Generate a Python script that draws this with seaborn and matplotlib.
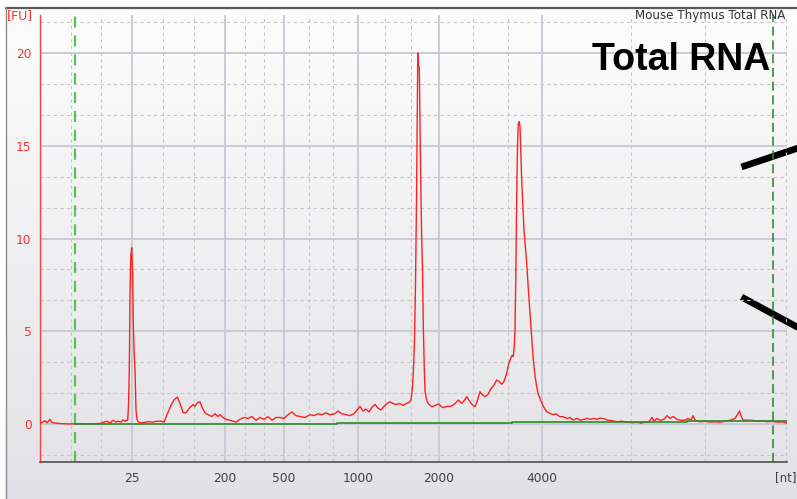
import numpy as np
import pandas as pd
import matplotlib
matplotlib.use("Agg")
import matplotlib.pyplot as plt
import seaborn as sns

# ---------------- data ----------------
# migration time [s] and fluorescence [FU]
time_s = [20.0, 20.15, 20.25, 20.35, 20.5, 20.6, 20.75, 21.0, 21.5, 22.0, 22.5, 23.0,
          23.2, 23.35, 23.5, 23.65, 23.8, 23.9, 24.05, 24.15, 24.25, 24.325,
          24.385, 24.425, 24.465, 24.5, 24.535, 24.585, 24.635, 24.665, 24.71, 24.75,
          24.8, 24.85, 24.915, 25.05, 25.25, 25.45, 25.65, 25.85, 26.05, 26.2,
          26.35, 26.55, 26.7, 26.875, 27.0, 27.15, 27.3, 27.5, 27.65, 27.75, 27.875,
          28.0, 28.1, 28.25, 28.4, 28.6, 28.75, 28.9, 29.0, 29.15, 29.3, 29.5, 29.65,
          29.8, 30.0, 30.2, 30.4, 30.6, 30.8, 31.0, 31.2, 31.4, 31.6, 31.8, 32.0,
          32.2, 32.4, 32.6, 32.8, 33.0, 33.25, 33.5, 33.7, 33.9, 34.1, 34.3, 34.5,
          34.75, 34.9, 35.1, 35.3, 35.5, 35.7, 35.85, 36.0, 36.15, 36.3, 36.45, 36.6,
          36.75, 36.9, 37.05, 37.2, 37.35, 37.5, 37.65, 37.8, 38.0, 38.15, 38.3,
          38.45, 38.55, 38.625, 38.675, 38.725, 38.775, 38.825, 38.865, 38.89,
          38.925, 38.965, 39.025, 39.075, 39.125, 39.165, 39.21, 39.25, 39.325,
          39.415, 39.585, 39.75, 39.915, 40.05, 40.165, 40.35, 40.55, 40.75, 40.915,
          41.085, 41.2, 41.335, 41.5, 41.65, 41.75, 41.85, 42.0, 42.1, 42.25, 42.4,
          42.55, 42.7, 42.835, 42.95, 43.085, 43.2, 43.335, 43.425, 43.5, 43.6,
          43.665, 43.715, 43.75, 43.79, 43.835, 43.875, 43.915, 43.96, 44.0, 44.085,
          44.2, 44.335, 44.415, 44.5, 44.585, 44.665, 44.75, 44.835, 44.915, 45.0,
          45.165, 45.335, 45.5, 45.65, 45.8, 46.0, 46.15, 46.35, 46.5, 46.65, 46.85,
          47.0, 47.2, 47.35, 47.5, 47.7, 47.85, 48.0, 48.2, 48.4, 48.6, 48.85, 49.1,
          49.35, 49.65, 49.85, 50.05, 50.25, 50.45, 50.6, 50.7, 50.85, 51.0, 51.2,
          51.35, 51.5, 51.65, 51.85, 52.05, 52.25, 52.4, 52.55, 52.65, 52.75, 53.0,
          53.25, 53.5, 53.75, 54.0, 54.25, 54.5, 54.75, 54.9, 54.975, 55.05, 55.15,
          55.35, 55.6, 55.85, 56.1, 56.35, 56.6, 56.85, 57.1, 57.35]
fu = [0.05, 0.1, 0.18, 0.06, 0.25, 0.08, 0.05, 0.02, 0.0, 0.02, 0.0, 0.03,
      0.1, 0.15, 0.05, 0.2, 0.1, 0.15, 0.1, 0.22, 0.15, 0.2,
      0.2, 1.0, 2.9, 6.9, 9.0, 9.5, 8.1, 5.4, 3.8, 2.9,
      0.75, 0.25, 0.12, 0.05, 0.1, 0.12, 0.1, 0.15, 0.15, 0.1,
      0.5, 1.0, 1.3, 1.45, 1.1, 0.62, 0.6, 0.9, 1.05, 0.95, 1.15,
      1.2, 0.9, 0.6, 0.5, 0.4, 0.55, 0.4, 0.5, 0.35, 0.25, 0.2, 0.15,
      0.1, 0.25, 0.35, 0.3, 0.4, 0.2, 0.35, 0.25, 0.4, 0.2, 0.35, 0.35,
      0.3, 0.5, 0.65, 0.45, 0.4, 0.35, 0.5, 0.45, 0.55, 0.5, 0.6, 0.5,
      0.55, 0.7, 0.55, 0.5, 0.45, 0.55, 0.75, 0.95, 0.7, 0.8, 0.65, 0.9,
      1.05, 0.85, 0.75, 0.95, 1.1, 1.2, 1.1, 1.05, 1.1, 1.0, 1.1,
      1.15, 1.3, 2.0, 3.0, 4.5, 7.5, 12.0, 17.0, 20.0,
      19.4, 19.2, 14.0, 10.5, 8.3, 5.3, 3.2, 1.8, 1.3,
      1.1, 0.93, 1.0, 1.08, 0.95, 0.88, 0.95, 0.95, 1.1, 1.29,
      1.11, 1.25, 1.47, 1.2, 1.0, 0.93, 1.2, 1.74, 1.6, 1.47, 1.6,
      1.9, 2.1, 2.37, 2.3, 2.14, 2.3, 2.73, 3.2, 3.45, 3.7,
      3.63, 4.2, 5.07, 8.0, 12.25, 15.0, 16.2, 16.3, 16.03, 13.15,
      10.46, 8.66, 7.3, 5.97, 4.6, 3.45, 2.6, 2.01, 1.6, 1.38,
      0.95, 0.66, 0.57, 0.5, 0.55, 0.39, 0.4, 0.3, 0.35, 0.21, 0.3,
      0.21, 0.25, 0.3, 0.25, 0.3, 0.25, 0.32, 0.28, 0.2, 0.18, 0.12, 0.15,
      0.1, 0.07, 0.1, 0.05, 0.1, 0.12, 0.35, 0.15, 0.3, 0.2, 0.25,
      0.45, 0.3, 0.4, 0.25, 0.2, 0.2, 0.3, 0.2, 0.45, 0.2, 0.12,
      0.15, 0.1, 0.12, 0.1, 0.15, 0.2, 0.3, 0.55, 0.7, 0.45, 0.21,
      0.2, 0.2, 0.15, 0.18, 0.12, 0.15, 0.1, 0.12, 0.04]

baseline_time = [21.74, 34.85, 34.85, 43.6, 43.6, 52.35, 52.35, 57.35]
baseline_fu = [-0.02, -0.02, 0.04, 0.04, 0.1, 0.1, 0.15, 0.15]

ladder_time = [24.59, 29.25, 32.2, 35.9, 39.95, 45.1]
ladder_labels = ["25", "200", "500", "1000", "2000", "4000"]
minor_time = [21.55, 23.05, 26.13, 27.7, 30.23, 31.2, 33.43, 34.65, 37.25, 38.55,
              41.65, 43.4, 49.55, 53.25, 57.3]
marker_time = [21.74, 56.65]
y_ticks = [0, 5, 10, 15, 20]

# ---------------- figure ----------------
sns.set_style("white")
plt.rcParams["font.family"] = ["DejaVu Sans"]

W, H = 797, 499
fig = plt.figure(figsize=(W / 100, H / 100), dpi=100)
fig.patch.set_facecolor("white")

bg = fig.add_axes([0, 0, 1, 1])
top_c = np.array([253, 253, 253]) / 255
bot_c = np.array([226, 226, 230]) / 255
g = np.linspace(0, 1, 256)[:, None, None]
img = top_c + (bot_c - top_c) * g
bg.imshow(img, extent=[6, W, H, 7], aspect="auto", interpolation="bilinear")
bg.plot([6, W], [7.5, 7.5], color="#5a5a5a", lw=1.6)
bg.plot([6.5, 6.5], [7, H], color="#8c8c8c", lw=1.0)
# black arrow shafts at right edge
bg.plot([741.5, 810], [167, 144], color="black", lw=4.8, solid_capstyle="butt")
bg.plot([741.5, 810], [297, 334], color="black", lw=4.8, solid_capstyle="butt")
bg.set_xlim(0, W)
bg.set_ylim(H, 0)
bg.axis("off")

ax = fig.add_axes([40 / W, (H - 462) / H, 747 / W, (462 - 15) / H])
ax.patch.set_alpha(0)
ax.set_xlim(20, 57.35)
ax.set_ylim(-2.05, 22.05)

# grid
for xv in minor_time:
    ax.axvline(xv, color="#c6c6c6", lw=0.8, ls=(0, (3, 3)), zorder=1)
for xv in ladder_time:
    ax.axvline(xv, color="#c8ccd8", lw=1.4, zorder=1)
for i in range(len(y_ticks)):
    for k in (1, 2):
        ax.axhline(y_ticks[i] + k * 5 / 3, color="#c6c6c6", lw=0.8, ls=(0, (3, 3)), zorder=1)
        if i == 0:
            ax.axhline(y_ticks[i] - k * 5 / 3, color="#c6c6c6", lw=0.8, ls=(0, (3, 3)), zorder=1)
for yv in y_ticks:
    ax.axhline(yv, color="#c8ccd8", lw=1.4, zorder=1)

# markers
ax.axvline(marker_time[0], color="#5cbf5c", lw=1.6, ls=(0, (5, 3.5)), zorder=2)
ax.axvline(marker_time[1], color="#2e7d32", lw=1.1, ls=(0, (6, 3)), zorder=2)

trace = pd.DataFrame({"time": time_s, "fu": fu})
base = pd.DataFrame({"time": baseline_time, "fu": baseline_fu})
sns.lineplot(data=trace, x="time", y="fu", color="#ff2020", lw=1.0, ax=ax,
             estimator=None, sort=False, zorder=3)
sns.lineplot(data=base, x="time", y="fu", color="#2a8c2a", lw=1.2, ax=ax,
             estimator=None, sort=False, zorder=4)
ax.set_xlabel("")
ax.set_ylabel("")

ax.set_xticks(ladder_time, ladder_labels)
ax.set_yticks(y_ticks)
ax.tick_params(axis="x", colors="#404040", length=4, width=1, labelsize=8.8, pad=3.5)
ax.tick_params(axis="y", color="#ff4040", labelcolor="#ff3030", length=4.5, width=1,
               labelsize=8.8, pad=1.5)
for s in ("top", "right"):
    ax.spines[s].set_visible(False)
ax.spines["left"].set_color("#ff4040")
ax.spines["left"].set_linewidth(1.0)
ax.spines["bottom"].set_color("#505050")
ax.spines["bottom"].set_linewidth(1.2)

fig.text(7 / W, 1 - 16 / H, "[FU]", color="#ff3030", fontsize=9, va="center", ha="left")
fig.text(775 / W, 1 - 478 / H, "[nt]", color="#404040", fontsize=8.5, va="center", ha="left")
fig.text(785 / W, 1 - 16 / H, "Mouse Thymus Total RNA", color="#333333", fontsize=8.6,
         va="center", ha="right")
fig.text(592 / W, 1 - 70 / H, "Total RNA", color="black", fontsize=27, fontweight="bold",
         family="Liberation Sans", va="baseline", ha="left")

fig.savefig("out.png", dpi=100)
